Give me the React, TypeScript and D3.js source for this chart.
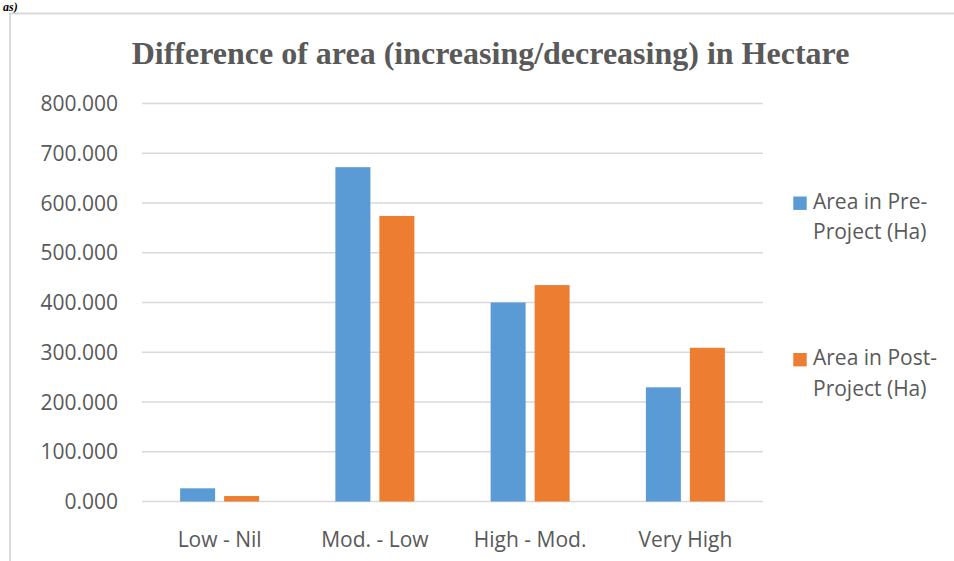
import React from "react";
import * as d3 from "d3";

const categories = ["Low - Nil", "Mod. - Low", "High - Mod.", "Very High"];
const seriesNames = ["Area in Pre-Project (Ha)", "Area in Post-Project (Ha)"];
const legendLines = [["Area in Pre-", "Project (Ha)"], ["Area in Post-", "Project (Ha)"]];
const preValues = [26.5, 672, 400, 229.5];
const postValues = [11, 574, 435, 309];
const yTicks = [0, 100, 200, 300, 400, 500, 600, 700, 800];
const colors = ["#5B9BD5", "#ED7D31"];
const title = "Difference of area (increasing/decreasing) in Hectare";

export default function App() {
  const W = 954, H = 561;
  const left = 142, right = 763, top = 103.5, bottom = 501.5;
  const x0 = d3.scaleBand<string>().domain(categories).range([left, right]).padding(0);
  const y = d3.scaleLinear().domain([0, 800]).range([bottom, top]);
  const series = [preValues, postValues];
  const fmt = d3.format(".3f");
  const font = "'Open Sans', 'Noto Sans', sans-serif";
  const textColor = "#595959";
  return (
    <svg width={W} height={H} style={{ position: "absolute", left: 0, top: 0, background: "#fff" }}>
      <rect x={0} y={0} width={W} height={H} fill="#fff" />
      <text x={3} y={11} fontFamily="'Liberation Serif', serif" fontWeight="bold" fontStyle="italic" fontSize={12} fill="#000">as)</text>
      <path d={`M10,${H} V13.5 H${W}`} fill="none" stroke="#d9d9d9" strokeWidth={2} />
      <text x={490.5} y={64} textAnchor="middle" fontFamily="'Liberation Serif', 'Times New Roman', serif" fontWeight="bold" fontSize={32} fill={textColor}>{title}</text>
      {yTicks.map((t) => (
        <g key={t}>
          <line x1={left} x2={right} y1={y(t)} y2={y(t)} stroke="#d9d9d9" strokeWidth={1.5} />
          <text x={118} y={y(t) + 7.5} textAnchor="end" fontFamily={font} fontSize={21} fill={textColor}>{fmt(t)}</text>
        </g>
      ))}
      {categories.map((c, i) => {
        const cx = (x0(c) as number) + x0.bandwidth() / 2;
        const x1 = d3.scaleBand<number>().domain([0, 1]).range([cx - 39.5, cx + 39.5]).paddingInner(9 / 44).paddingOuter(0);
        return (
          <g key={c}>
            {series.map((s, si) => (
              <rect key={si} x={x1(si)} y={y(s[i])} width={x1.bandwidth()} height={y(0) - y(s[i])} fill={colors[si]} />
            ))}
            <text x={cx} y={546.7} textAnchor="middle" fontFamily={font} fontSize={21} fill={textColor}>{c}</text>
          </g>
        );
      })}
      {seriesNames.map((n, si) => {
        const baseY = si === 0 ? 208.5 : 365;
        return (
          <g key={n}>
            <rect x={793.3} y={baseY - 12} width={13.4} height={13.4} fill={colors[si]} />
            {legendLines[si].map((l, li) => (
              <text key={li} x={813} y={baseY + li * 30.5} fontFamily={font} fontSize={21} fill={textColor}>{l}</text>
            ))}
          </g>
        );
      })}
    </svg>
  );
}
